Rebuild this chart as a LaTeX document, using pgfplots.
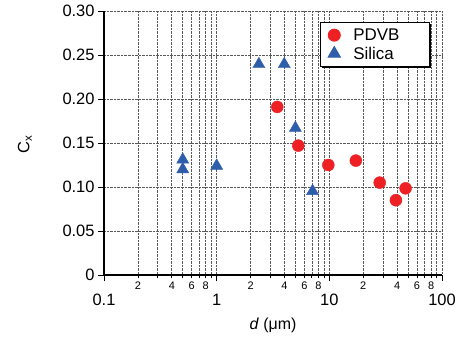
\documentclass[border=0pt]{standalone}
\usepackage{fontspec}
\setmainfont{Liberation Sans}
\usepackage{pgfplots}
\pgfplotsset{compat=1.18}
\usetikzlibrary{shadows}
\definecolor{cred}{RGB}{237,32,36}
\definecolor{cblue}{RGB}{46,94,170}
\begin{document}
\begin{tikzpicture}
\path[use as bounding box] (-104bp,-67bp) rectangle (355bp,275bp);
\begin{axis}[
  at={(0,0)}, anchor=south west,
  scale only axis, width=338bp, height=264bp,
  xmode=log, xmin=0.1, xmax=100,
  ymin=0, ymax=0.30,
  axis x line*=bottom, axis y line*=left,
  axis line style={line width=1.1pt, black},
  tick align=outside,
  tick style={black, line width=0.8pt},
  major tick length=6bp, minor tick length=3bp,
  xtick={0.1,1,10,100}, xticklabels={0.1,1,10,100},
  xticklabel style={font=\fontsize{16.5}{18}\selectfont, yshift=-10bp},
  ytick={0,0.05,0.10,0.15,0.20,0.25,0.30},
  yticklabels={0,0.05,0.10,0.15,0.20,0.25,0.30},
  yticklabel style={font=\fontsize{16.5}{18}\selectfont},
  extra x ticks={0.2,0.4,0.6,0.8,2,4,6,8,20,40,60,80},
  extra x tick labels={2,4,6,8,2,4,6,8,2,4,6,8},
  extra x tick style={grid=none, major tick length=3bp,
     xticklabel style={font=\fontsize{11}{12}\selectfont, yshift=10bp}},
  xmajorgrids, xminorgrids, ymajorgrids,
  major grid style={densely dotted, black!65, line width=0.7pt},
  minor grid style={densely dotted, black!65, line width=0.7pt},
  xlabel={\textit{d} (μm)},
  every axis x label/.style={at={(axis description cs:0.5,-0.189)}, anchor=center},
  xlabel style={font=\fontsize{16}{18}\selectfont},
  ylabel={C\textsubscript{x}},
  every axis y label/.style={at={(axis description cs:-0.234,0.496)}, anchor=center, rotate=90},
  ylabel style={font=\fontsize{16.5}{18}\selectfont},
  legend image code/.code={\draw[mark repeat=2, mark phase=2, #1] plot coordinates {(0bp,0bp) (12bp,0bp) (24bp,0bp)};},
  legend style={at={(0.964,0.958)}, anchor=north east,
     draw=black, line width=1pt, fill=white,
     general shadow={fill=black, shadow xshift=1.3pt, shadow yshift=-1.3pt},
     font=\fontsize{17}{19}\selectfont,
     legend cell align=left, inner xsep=8bp, inner ysep=5bp,
     nodes={inner ysep=1bp},
     /tikz/every odd column/.style={column sep=11bp},
     row sep=3bp},
  clip=false,
]
\addplot[only marks, mark=*, mark size=6bp, color=cred, mark options={fill=cred, draw=cred}]
  coordinates {(3.45,0.191) (5.3,0.147) (9.8,0.125) (17.2,0.130) (28,0.105) (39,0.085) (47.5,0.0985)};
\addlegendentry{\makebox[66bp][l]{PDVB}}
\addplot[only marks, mark=triangle*, mark size=7bp, color=cblue, mark options={fill=cblue, draw=cblue}]
  coordinates {(0.5,0.131) (0.5,0.120) (1.0,0.124) (2.37,0.2395) (3.98,0.2395) (5.0,0.167) (7.1,0.0953)};
\addlegendentry{\makebox[66bp][l]{Silica}}
\end{axis}
\end{tikzpicture}
\end{document}
